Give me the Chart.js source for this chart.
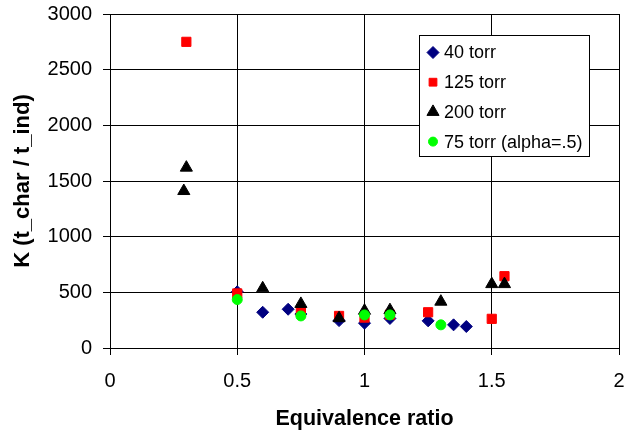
<!DOCTYPE html>
<html>
<head>
<meta charset="utf-8">
<script src="https://cdn.jsdelivr.net/npm/chart.js@4/dist/chart.umd.min.js"></script>
<style>
  body { margin: 0; background: #fff; }
  canvas { display: block; }
</style>
</head>
<body>
<canvas id="chart" width="627" height="434"></canvas>
<script>
// Data
const torr40X = [0.5, 0.6, 0.7, 0.75, 0.9, 1.0, 1.1, 1.25, 1.35, 1.4];
const torr40Y = [505, 321, 348, 305, 246, 223, 265, 244, 208, 193];

const torr125X = [0.3, 0.5, 0.75, 0.9, 1.0, 1.1, 1.25, 1.5, 1.55];
const torr125Y = [2750, 490, 327, 288, 273, 300, 321, 262, 645];

const torr200X = [0.29, 0.3, 0.6, 0.75, 0.9, 1.0, 1.1, 1.3, 1.5, 1.55];
const torr200Y = [1410, 1620, 536, 396, 268, 335, 340, 416, 574, 574];

const torr75X = [0.5, 0.75, 1.0, 1.1, 1.3];
const torr75Y = [435, 288, 297, 297, 208];

const seriesLabels = ['40 torr', '125 torr', '200 torr', '75 torr (alpha=.5)'];

const FONT = "'Liberation Sans', Arial, sans-serif";

function toPoints(xs, ys) {
  return xs.map((x, i) => ({ x: x, y: ys[i] }));
}

// plain numbers, no thousands separator / trailing .0
function plainTick(value) {
  return String(value);
}

// Legend box drawn inside the plot area
const boxLegend = {
  id: 'boxLegend',
  afterDraw(chart) {
    const ctx = chart.ctx;
    ctx.save();
    ctx.fillStyle = '#fff';
    ctx.strokeStyle = '#000';
    ctx.lineWidth = 1;
    ctx.fillRect(419.5, 35.5, 170, 121);
    ctx.strokeRect(419.5, 35.5, 170, 121);

    const sizes = [6, 5.5, 7, 4.5];
    ctx.font = '18px ' + FONT;
    ctx.textBaseline = 'middle';
    ctx.textAlign = 'left';
    chart.data.datasets.forEach((ds, i) => {
      const y = 52.5 + i * 29.7;
      ctx.fillStyle = ds.backgroundColor;
      ctx.strokeStyle = ds.borderColor;
      Chart.helpers.drawPoint(ctx, {
        pointStyle: ds.pointStyle,
        radius: sizes[i],
        rotation: 0,
        borderWidth: 1
      }, 433, y);
      ctx.fillStyle = '#000';
      ctx.fillText(ds.label, 444, y + 1);
    });
    ctx.restore();
  }
};

const ctx = document.getElementById('chart').getContext('2d');

const chart = new Chart(ctx, {
  type: 'scatter',
  data: {
    datasets: [
      {
        label: seriesLabels[0],
        data: toPoints(torr40X, torr40Y),
        pointStyle: 'rectRot',
        pointRadius: 6,
        backgroundColor: '#000080',
        borderColor: '#000080',
        borderWidth: 1,
        order: 3,
      },
      {
        label: seriesLabels[1],
        data: toPoints(torr125X, torr125Y),
        pointStyle: 'rect',
        pointRadius: 6.5,
        backgroundColor: '#ff0000',
        borderColor: '#ff0000',
        borderWidth: 1,
        order: 2,
      },
      {
        label: seriesLabels[2],
        data: toPoints(torr200X, torr200Y),
        pointStyle: 'triangle',
        pointRadius: 7,
        backgroundColor: '#000000',
        borderColor: '#000000',
        borderWidth: 1,
        order: 1,
      },
      {
        label: seriesLabels[3],
        data: toPoints(torr75X, torr75Y),
        pointStyle: 'circle',
        pointRadius: 5,
        backgroundColor: '#00ff00',
        borderColor: '#00ff00',
        borderWidth: 1,
        order: 0,
      },
    ],
  },
  options: {
    responsive: false,
    animation: false,
    devicePixelRatio: 1,
    layout: { padding: { top: 14, right: 2, bottom: 0, left: 0 } },
    plugins: {
      legend: { display: false },
      tooltip: { enabled: false },
    },
    scales: {
      x: {
        type: 'linear',
        min: 0,
        max: 2,
        afterFit(scale) {
          scale.height = 86;
          scale.paddingLeft = 0;
          scale.paddingRight = 0;
        },
        ticks: {
          stepSize: 0.5,
          padding: 14,
          color: '#000',
          font: { family: FONT, size: 20 },
          maxRotation: 0,
          callback: plainTick,
        },
        grid: { color: '#000', lineWidth: 1, tickLength: 7 },
        border: { color: '#000' },
        title: {
          display: true,
          text: 'Equivalence ratio',
          color: '#000',
          font: { family: FONT, size: 21.5, weight: 'bold' },
          padding: { top: 4, bottom: 2 },
        },
      },
      y: {
        min: 0,
        max: 3000,
        afterFit(scale) {
          scale.width = 110;
          scale.paddingTop = 0;
          scale.paddingBottom = 0;
        },
        ticks: {
          stepSize: 500,
          padding: 11,
          color: '#000',
          font: { family: FONT, size: 20 },
          callback: plainTick,
        },
        grid: { color: '#000', lineWidth: 1, tickLength: 7 },
        border: { color: '#000' },
        title: {
          display: true,
          text: 'K (t_char / t_ind)',
          color: '#000',
          font: { family: FONT, size: 22, weight: 'bold' },
          padding: { top: 10, bottom: 0 },
        },
      },
    },
  },
  plugins: [boxLegend],
});
</script>
</body>
</html>
